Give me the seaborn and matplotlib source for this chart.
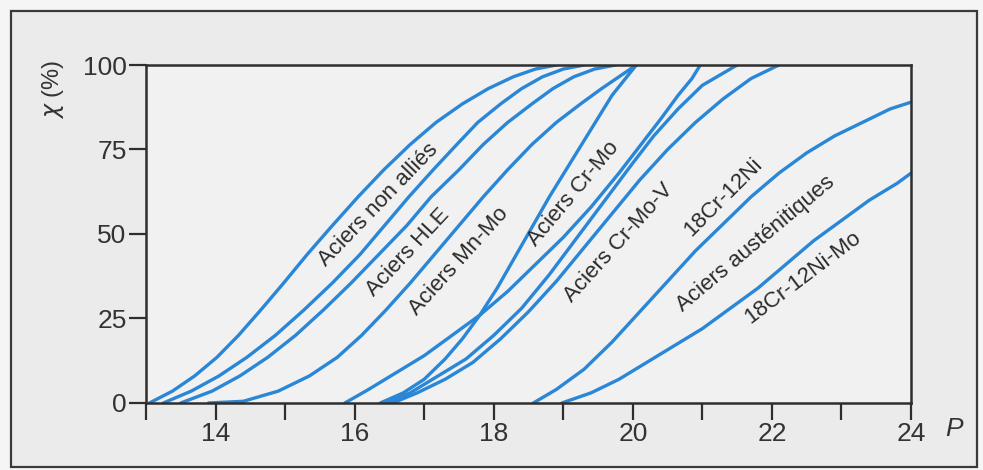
import pandas as pd
import seaborn as sns
import matplotlib.pyplot as plt
from matplotlib.patches import Rectangle

# Larson-Miller parameter P and embrittlement X (%)
x_left = [0, 3.5, 8, 13.5, 20, 27.5, 35.5, 44, 52.5, 61, 69, 76.5, 83, 88.5, 93, 96.5, 98.8, 100]
p_c1 = [13.05, 13.38, 13.7, 14.02, 14.33, 14.65, 14.98, 15.32, 15.68, 16.05, 16.42, 16.8, 17.17, 17.55, 17.92, 18.28, 18.6, 18.9]
p_c2 = [13.25, 13.65, 14.05, 14.45, 14.86, 15.27, 15.68, 16.08, 16.43, 16.78, 17.13, 17.47, 17.77, 18.1, 18.4, 18.7, 19.0, 19.3]
p_c3 = [13.5, 13.95, 14.35, 14.75, 15.15, 15.55, 15.95, 16.35, 16.75, 17.1, 17.5, 17.85, 18.2, 18.55, 18.85, 19.15, 19.45, 19.75]

p_c4 = [13.9, 14.4, 14.9, 15.35, 15.75, 16.1, 16.45, 16.8, 17.15, 17.5, 17.85, 18.2, 18.55, 18.9, 19.25, 19.55, 19.8, 20.05]
x_c4 = [0, 0.5, 3.5, 8, 13.5, 20, 27.5, 35.5, 44, 52.5, 61, 69, 76.5, 83, 88.5, 93, 96.5, 100]

p_s = [16.37, 16.7, 17.0, 17.3, 17.55, 17.8, 18.05, 18.3, 18.55, 18.8, 19.1, 19.4, 19.7, 20.05]
x_s = [0, 3, 7, 13, 19, 26, 34, 43, 52, 61, 71, 81, 91, 100]

p_m1 = [15.86, 16.2, 16.6, 17.0, 17.4, 17.8, 18.2, 18.6, 19.0, 19.4, 19.8, 20.1, 20.4, 20.65, 20.85, 20.97]
x_m1 = [0, 4, 9, 14, 20, 26, 33, 41, 49, 58, 68, 76, 84, 91, 96, 100]

p_m3 = [16.45, 16.8, 17.2, 17.6, 18.0, 18.4, 18.8, 19.2, 19.6, 20.0, 20.3, 20.65, 21.0, 21.25, 21.5]
x_m3 = [0, 3, 8, 13, 20, 28, 38, 49, 60, 71, 79, 87, 94, 97, 100]

p_m4 = [16.55, 16.9, 17.3, 17.7, 18.1, 18.5, 18.9, 19.3, 19.7, 20.1, 20.5, 20.9, 21.3, 21.7, 22.1]
x_m4 = [0, 3, 7, 12, 19, 27, 36, 46, 56, 66, 75, 83, 90, 96, 100]

p_ni = [18.57, 18.9, 19.3, 19.7, 20.1, 20.5, 20.9, 21.3, 21.7, 22.1, 22.5, 22.9, 23.3, 23.7, 24.0]
x_ni = [0, 4, 10, 18, 27, 36, 45, 53, 61, 68, 74, 79, 83, 87, 89]

p_nimo = [18.98, 19.4, 19.8, 20.2, 20.6, 21.0, 21.4, 21.8, 22.2, 22.6, 23.0, 23.4, 23.8, 24.0]
x_nimo = [0, 3, 7, 12, 17, 22, 28, 34, 41, 48, 54, 60, 65, 68]

curves = {
    "c1": (p_c1, x_left), "c2": (p_c2, x_left), "c3": (p_c3, x_left),
    "c4": (p_c4, x_c4), "s": (p_s, x_s), "m1": (p_m1, x_m1),
    "m3": (p_m3, x_m3), "m4": (p_m4, x_m4),
    "ni": (p_ni, x_ni), "nimo": (p_nimo, x_nimo),
}

rows = []
for name, (ps, xs) in curves.items():
    for p, x in zip(ps, xs):
        rows.append({"curve": name, "P": p, "X": x})
df = pd.DataFrame(rows)

sns.set_theme(style="ticks")
plt.rcParams["font.family"] = ["Liberation Sans", "DejaVu Sans"]

blue = "#2a86d6"
dark = "#2e2e2e"

fig = plt.figure(figsize=(9.83, 4.70), dpi=100, facecolor="#f5f5f5")
# outer frame around the whole figure
fig.patches.append(Rectangle((11 / 983, 3 / 470), 966 / 983, 456 / 470,
                             transform=fig.transFigure, facecolor="#ebebeb",
                             edgecolor="#3a3a3a", lw=1.6, zorder=-10))

ax = fig.add_axes([0.1485, 0.1426, 0.7783, 0.7191])
ax.set_facecolor("#f1f1f1")

sns.lineplot(data=df, x="P", y="X", hue="curve", estimator=None, sort=False,
             palette={k: blue for k in curves}, legend=False, lw=2.4, ax=ax)

ax.set_xlim(13, 24)
ax.set_ylim(0, 100)
ax.set_xticks([14, 16, 18, 20, 22, 24])
ax.set_xticks([13, 15, 17, 19, 21, 23], minor=True)
ax.set_yticks([0, 25, 50, 75, 100])
ax.set_xlabel("")
ax.set_ylabel("")
for s in ax.spines.values():
    s.set_color(dark)
    s.set_linewidth(1.8)
ax.tick_params(axis="x", which="both", direction="out", length=12, width=1.6,
               color=dark, labelsize=19, labelcolor="#333333", pad=2)
ax.tick_params(axis="y", which="both", direction="out", length=12, width=1.6,
               color=dark, labelsize=19, labelcolor="#333333", pad=2)

labels = [
    ("Aciers non alliés", 16.34, 58.6, 46),
    ("Aciers HLE", 16.77, 44.5, 47),
    ("Aciers Mn-Mo", 17.5, 42.0, 48),
    ("Aciers Cr-Mo", 19.15, 62.0, 50),
    ("Aciers Cr-Mo-V", 19.8, 47.5, 48),
    ("18Cr-12Ni", 21.3, 61.0, 45),
    ("Aciers austénitiques", 21.76, 47.0, 40),
    ("18Cr-12Ni-Mo", 22.45, 37.0, 37),
]
for text, p, x, ang in labels:
    ax.text(p, x, text, rotation=ang, rotation_mode="anchor", ha="center",
            va="center", fontsize=16, color="#2b2b2b")

fig.text(954 / 983, 41 / 470, "P", style="italic", fontsize=19,
         color="#333333", ha="center", va="center")
fig.text(53 / 983, 380 / 470, "$\\chi$ (%)", rotation=90, fontsize=17,
         color="#333333", ha="center", va="center")

fig.savefig("out.png", dpi=100, facecolor=fig.get_facecolor())
